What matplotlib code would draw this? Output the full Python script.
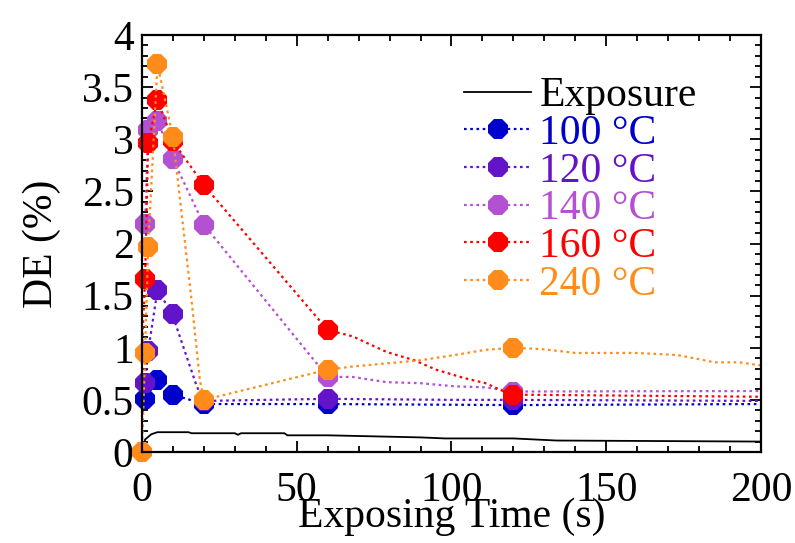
import numpy as np
import matplotlib
matplotlib.use("Agg")
import matplotlib.pyplot as plt
from matplotlib.ticker import MultipleLocator

# exposure curve (black, solid)
exp_t = [0, 1, 3, 5, 15, 16, 30, 31, 32, 46, 47, 60, 75, 90, 98, 120, 134, 200]
exp_de = [0.0, 0.12, 0.17, 0.19, 0.19, 0.18, 0.18, 0.165, 0.18, 0.18, 0.16, 0.16, 0.15, 0.14, 0.13, 0.13, 0.11, 0.10]

# dotted curves for each anneal temperature, with the measured points marked
t100 = [0, 1, 5, 10, 20, 60, 120, 200]
de100 = [0.37, 0.51, 0.69, 0.55, 0.46, 0.46, 0.45, 0.46]
mk100 = [1, 5, 10, 20, 60, 120]

t120 = [1, 2, 5, 10, 10.7, 17.7, 20, 60, 100, 120, 200]
de120 = [0.66, 0.97, 1.55, 1.32, 1.24, 0.63, 0.49, 0.51, 0.50, 0.50, 0.49]
mk120 = [1, 2, 5, 10, 20, 60, 120]

t140 = [1, 2, 5, 10, 20, 60, 68, 79, 90, 101, 111, 120, 200]
de140 = [2.19, 3.09, 3.18, 2.81, 2.18, 0.72, 0.72, 0.67, 0.66, 0.63, 0.62, 0.58, 0.585]
mk140 = [1, 2, 5, 10, 20, 60, 120]

t160 = [0, 1, 2, 5, 10, 20, 60, 68, 79, 88, 95, 104, 111, 117, 120, 200]
de160 = [1.0, 1.66, 2.96, 3.38, 2.98, 2.56, 1.17, 1.11, 0.96, 0.88, 0.79, 0.71, 0.66, 0.58, 0.55, 0.53]
mk160 = [1, 2, 5, 10, 20, 60, 120]

t240 = [0, 1, 2, 5, 10, 12.3, 16, 18.7, 20, 60, 68, 79, 90, 101, 111, 120,
        130, 140, 160, 173, 180, 185, 193, 200]
de240 = [0.0, 0.95, 1.97, 3.72, 3.02, 2.42, 1.46, 0.69, 0.50, 0.79, 0.82, 0.85, 0.88, 0.93, 0.98, 1.0,
         0.985, 0.95, 0.95, 0.93, 0.89, 0.86, 0.86, 0.83]
mk240 = [0, 1, 2, 5, 10, 20, 60, 120]

series = [
    ("100 °C", t100, de100, mk100, "#0000cc"),
    ("120 °C", t120, de120, mk120, "#6414c8"),
    ("140 °C", t140, de140, mk140, "#b450d2"),
    ("160 °C", t160, de160, mk160, "#ff0000"),
    ("240 °C", t240, de240, mk240, "#ff8c1a"),
]

plt.rcParams["font.family"] = ["Liberation Serif", "DejaVu Serif"]

fig = plt.figure(figsize=(7.95, 5.43), dpi=100)
ax = fig.add_axes([0.1786, 0.1676, 0.9572 - 0.1786, 0.9355 - 0.1676])

ax.plot(exp_t, exp_de, color="black", lw=1.3, label="Exposure")

for label, t, de, mk, col in series:
    idx = list(np.where(np.isin(t, mk))[0])
    ax.plot(t, de, color=col, lw=1.6, ls=(0, (1.2, 1.6)),
            marker="8", markersize=16, markevery=idx,
            markeredgewidth=0, label=label, clip_on=False)

ax.set_xlim(0, 200)
ax.set_ylim(0, 4)
ax.xaxis.set_major_locator(MultipleLocator(50))
ax.xaxis.set_minor_locator(MultipleLocator(10))
ax.yaxis.set_minor_locator(MultipleLocator(0.1))
ax.set_yticks(np.arange(0, 4.01, 0.5))
ax.set_yticklabels(["0", "0.5", "1", "1.5", "2", "2.5", "3", "3.5", "4"])

ax.tick_params(which="both", direction="in", top=True, right=True,
               labelsize=30, width=1.3)
ax.tick_params(which="major", length=8, pad=6)
ax.tick_params(which="minor", length=4)
ax.tick_params(axis="x", which="major", pad=14)
for sp in ax.spines.values():
    sp.set_linewidth(1.6)

ax.set_xlabel("Exposing Time (s)", fontsize=30, labelpad=-9)
ax.set_ylabel("DE (%)", fontsize=30, labelpad=15)

leg = ax.legend(loc="upper right", bbox_to_anchor=(0.923, 0.94), frameon=False,
                fontsize=30, handlelength=1.6, handletextpad=0.2,
                labelspacing=-0.02, borderaxespad=0)
for txt, line in zip(leg.get_texts(), leg.get_lines()):
    txt.set_color(line.get_color())

fig.savefig("out.png", dpi=100)
